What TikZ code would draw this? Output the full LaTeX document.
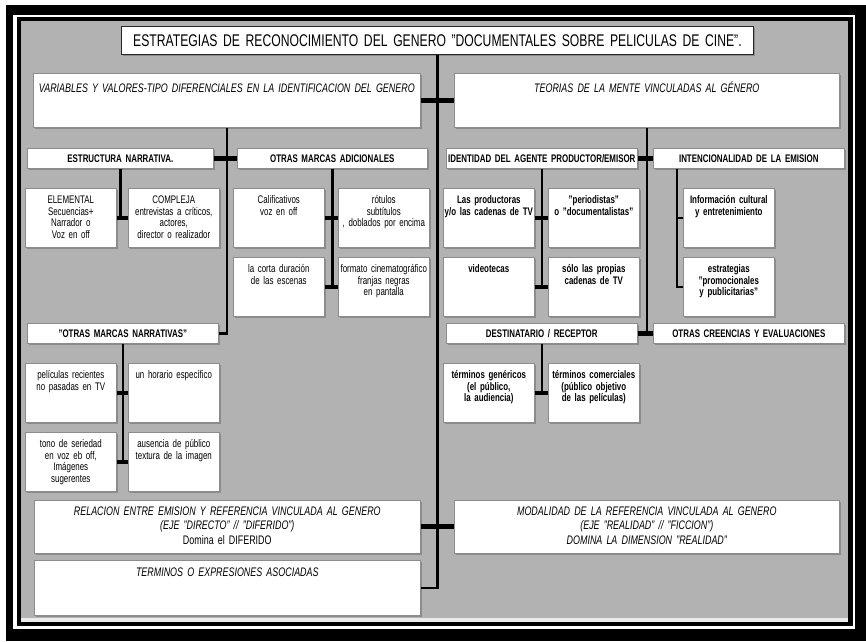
\documentclass[tikz,border=0pt]{standalone}
\usepackage{fontspec}
\setmainfont{Liberation Sans}[FakeStretch=0.72,
	UprightFeatures={FakeStretch=0.72},
	BoldFeatures={FakeStretch=0.72},
	ItalicFeatures={FakeStretch=0.72},
	BoldItalicFeatures={FakeStretch=0.72}]
\usetikzlibrary{shadows}
\definecolor{fondo}{RGB}{178,178,178}

\begin{document}
\begin{tikzpicture}[x=1pt,y=-1pt]
	\useasboundingbox (0,0) rectangle (866,641);
	% marco
	\fill[white] (0,0) rectangle (866,641);
	\fill[black] (6,5) rectangle (866,641);
	\fill[white] (13,15) rectangle (855,629);
	\fill[black] (17,17) rectangle (853,626);
	\fill[fondo] (21,21) rectangle (848,622);
	\fill[black!8] (21,618) rectangle (848,622);

	\tikzstyle{caja}=[rectangle, draw=black!45, line width=0.6pt, fill=white,
	anchor=north west, inner xsep=0pt, inner ysep=0pt, align=center,
	drop shadow={shadow xshift=1.2pt, shadow yshift=-1.2pt, fill=black!60, opacity=0.5}]
	\tikzstyle{titulo}=[caja, draw=black!85, line width=0.9pt, text width=632pt,
	text height=20pt, text depth=8pt, font=\fontsize{16.9}{20}\selectfont]
	\tikzstyle{grande}=[caja, font=\fontsize{12.4}{14.5}\selectfont\itshape]
	\tikzstyle{medio}=[caja, text width=191pt, text height=13.9pt, text depth=6.1pt,
	font=\fontsize{11}{12}\selectfont\bfseries]
	\tikzstyle{hoja}=[caja, text width=91pt, text height=15pt, text depth=44pt,
	font=\fontsize{11}{11.7}\selectfont]
	\tikzstyle{hojab}=[hoja, font=\fontsize{11}{11.7}\selectfont\bfseries]

	\node[titulo] (tit) at (121,26) {ESTRATEGIAS DE RECONOCIMIENTO DEL GENERO
	"DOCUMENTALES SOBRE PELICULAS DE CINE".};

	\node[grande, text width=387pt, text height=19pt, text depth=35pt] (var) at (33,73)
	{VARIABLES Y VALORES-TIPO DIFERENCIALES EN LA IDENTIFICACION DEL GENERO};
	\node[grande, text width=385pt, text height=19pt, text depth=35pt] (teor) at (454,73)
	{TEORIAS DE LA MENTE VINCULADAS AL GÉNERO};

	\node[medio, text width=186pt] (estr) at (27,148) {ESTRUCTURA NARRATIVA.};
	\node[medio, text width=190pt] (adic) at (237,148) {OTRAS MARCAS ADICIONALES};
	\node[medio] (ident) at (446,148) {IDENTIDAD DEL AGENTE PRODUCTOR/EMISOR};
	\node[medio] (intenc) at (653,148) {INTENCIONALIDAD DE LA EMISION};
	\node[medio] (narr) at (27,323) {"OTRAS MARCAS NARRATIVAS"};
	\node[medio] (dest) at (446,323) {DESTINATARIO / RECEPTOR};
	\node[medio] (creen) at (653,323) {OTRAS CREENCIAS Y EVALUACIONES};

	\node[hoja] (elem) at (25,188) {ELEMENTAL\\Secuencias+\\Narrador o\\Voz en off};
	\node[hoja] (comp) at (128,188) {COMPLEJA\\entrevistas a críticos,\\actores,\\director o realizador};
	\node[hoja] (calif) at (233,188) {Calificativos\\voz en off};
	\node[hoja] (rot) at (338,188) {rótulos\\subtítulos\\, doblados por encima};
	\node[hoja] (corta) at (233,257) {la corta duración\\de las escenas};
	\node[hoja] (form) at (338,257) {formato cinematográfico\\franjas negras\\en pantalla};
	\node[hojab] (prod) at (443,188) {Las productoras\\y/o las cadenas de TV};
	\node[hojab] (perio) at (548,188) {"periodistas"\\o "documentalistas"};
	\node[hojab] (video) at (443,257) {videotecas};
	\node[hojab] (solo) at (548,257) {sólo las propias\\cadenas de TV};
	\node[hojab] (info) at (683,188) {Información cultural\\y entretenimiento};
	\node[hojab] (estrat) at (683,257) {estrategias\\"promocionales\\y publicitarias"};
	\node[hoja] (pel) at (25,363) {películas recientes\\no pasadas en TV};
	\node[hoja] (hor) at (128,363) {un horario específico};
	\node[hoja] (tono) at (25,432) {tono de seriedad\\en voz eb off,\\Imágenes\\sugerentes};
	\node[hoja] (aus) at (128,432) {ausencia de público\\textura de la imagen};
	\node[hojab] (gen) at (443,363) {términos genéricos\\(el público,\\la audiencia)};
	\node[hojab] (com) at (548,363) {términos comerciales\\(público objetivo\\de las películas)};

	\node[grande, text width=386pt, text height=15pt, text depth=38pt] (rel) at (34,500)
	{RELACION ENTRE EMISION Y REFERENCIA VINCULADA AL GENERO\\
	(EJE "DIRECTO" // "DIFERIDO")\\{\upshape Domina el DIFERIDO}};
	\node[grande, text width=385pt, text height=15pt, text depth=38pt] (mod) at (454,500)
	{MODALIDAD DE LA REFERENCIA VINCULADA AL GENERO\\
	(EJE "REALIDAD" // "FICCION")\\DOMINA LA DIMENSION "REALIDAD"};
	\node[grande, text width=386pt, text height=16pt, text depth=39pt] (term) at (34,560)
	{TERMINOS O EXPRESIONES ASOCIADAS};

	\tikzstyle{linea}=[line width=2.6pt]
	\tikzstyle{union}=[line width=5pt]
	\tikzstyle{tope}=[line width=3.5pt]

	% tronco central
	\draw[linea] (tit.south) |- (term.east);
	\draw[union] (var.east) -- (teor.west);
	\draw[union] (rel.east) -- (mod.west);

	% lado izquierdo
	\draw[linea] (var.south) |- (narr.east);
	\draw[union] (estr.east) -- (adic.west);
	\draw[linea] (estr.south) -- (estr.south |- elem.east);
	\draw[tope] (elem.east) -- (comp.west);
	\draw[linea] (adic.south) -- (adic.south |- corta.east);
	\draw[tope] (calif.east) -- (rot.west);
	\draw[tope] (corta.east) -- (form.west);
	\draw[linea] (narr.south) -- (narr.south |- tono.east);
	\draw[tope] (pel.east) -- (hor.west);
	\draw[tope] (tono.east) -- (aus.west);

	% lado derecho
	\draw[linea] (teor.south) -- (teor.south |- dest.east);
	\draw[union] (ident.east) -- (intenc.west);
	\draw[union] (dest.east) -- (creen.west);
	\draw[linea] (ident.south) -- (ident.south |- video.east);
	\draw[tope] (prod.east) -- (perio.west);
	\draw[tope] (video.east) -- (solo.west);
	\coordinate (ci) at ([xshift=-6pt]info.west);
	\draw[linea] (intenc.south -| ci) |- (estrat.west);
	\draw[linea] (ci) -- (info.west);
	\draw[linea] (dest.south) -- (dest.south |- gen.east);
	\draw[tope] (gen.east) -- (com.west);
\end{tikzpicture}
\end{document}
